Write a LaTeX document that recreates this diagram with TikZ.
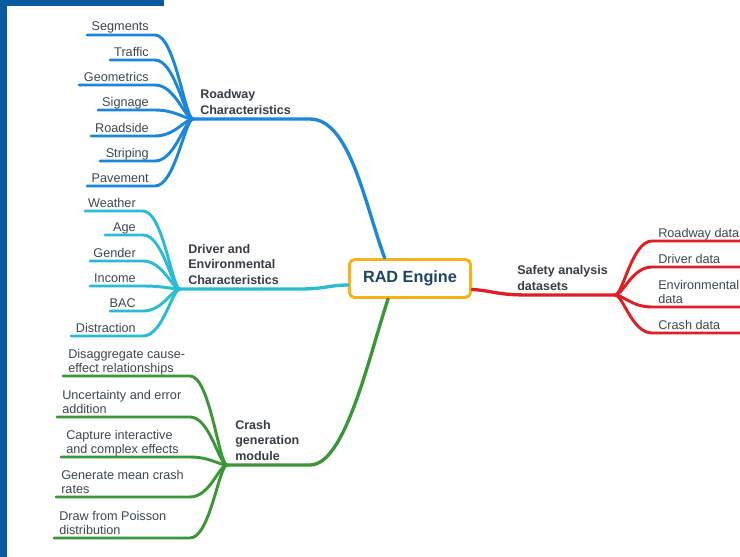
\documentclass[tikz,border=0pt]{standalone}
\usepackage{fontspec}
\setmainfont{Liberation Sans}
\usepackage{tikz}
\usetikzlibrary{calc}
\definecolor{barc}{RGB}{10,90,160}
\definecolor{blu}{RGB}{26,135,220}
\definecolor{cyn}{RGB}{41,188,213}
\definecolor{grn}{RGB}{59,150,55}
\definecolor{rd}{RGB}{224,30,37}
\definecolor{orng}{RGB}{247,178,27}
\definecolor{ink}{RGB}{61,72,82}
\definecolor{headc}{RGB}{55,62,70}
\definecolor{radc}{RGB}{31,70,96}

\begin{document}
\begin{tikzpicture}[x=0.75pt,y=-0.75pt,
		lw/.style={line width=2.2pt,line cap=round},
		mb/.style={line width=2.5pt,line cap=round},
		lf/.style={inner sep=0,text=ink,font=\fontsize{9.5}{10.5}\selectfont,align=left,execute at end node=\strut},
		hd/.style={inner sep=0,text=headc,font=\bfseries\fontsize{9.4}{11.5}\selectfont,align=left,anchor=south west,execute at end node=\strut}]
		\useasboundingbox[fill=white] (0,0) rectangle (740,557);
		\fill[barc] (0,0) rectangle (7,557);
		\fill[barc] (0,0) rectangle (164,6);

		\node[draw=orng,line width=2.2pt,rounded corners=4pt,fill=white,minimum width=91pt,minimum height=28.5pt,text=radc,font=\bfseries\fontsize{12.2}{14}\selectfont] (rad) at (410,278.5) {RAD Engine};

		\coordinate (hubR) at (193,119);
		\coordinate (hubD) at (180,289);
		\coordinate (hubC) at (227,465);
		\coordinate (hubS) at (615,295);
		\coordinate (rx) at (155,0);
		\coordinate (dx) at (143,0);
		\coordinate (cx) at (190,0);
		\coordinate (sx) at (652,0);

		\draw[mb,blu] (hubR) -- (310,119) .. controls (350,119) and (365,205) .. (rad.141);
		\draw[mb,cyn] (hubD) -- (300,289) .. controls (325,289) and (330,285) .. (rad.186);
		\draw[mb,grn] (hubC) -- (310,465) .. controls (345,465) and (368,360) .. (rad.223);
		\draw[mb,rd] (rad.350) .. controls (495,291) and (495,295) .. (530,295) -- (hubS);

		\node[hd] (hR) at (200,119) {Roadway\\Characteristics};
		\node[hd] (hD) at (188,289) {Driver and\\Environmental\\Characteristics};
		\node[hd] (hC) at (235,465) {Crash\\generation\\module};
		\node[hd] (hS) at (517,295) {Safety analysis\\datasets};

		\coordinate (seg) at (87,35);
		\coordinate (trf) at (110,60);
		\coordinate (geo) at (79,85);
		\coordinate (sgn) at (98,110);
		\coordinate (rds) at (91,136);
		\coordinate (str) at (100,161);
		\coordinate (pav) at (87,186);
		\node[lf,anchor=south east] (seg-t) at (149,35) {Segments};
		\node[lf,anchor=south east] (trf-t) at (149,60.5) {Traffic};
		\node[lf,anchor=south east] (geo-t) at (149,85.5) {Geometrics};
		\node[lf,anchor=south east] (sgn-t) at (149,110.5) {Signage};
		\node[lf,anchor=south east] (rds-t) at (149,136.5) {Roadside};
		\node[lf,anchor=south east] (str-t) at (149,161.5) {Striping};
		\node[lf,anchor=south east] (pav-t) at (149,186.5) {Pavement};
		\draw[lw,blu] (seg) -- (seg -| rx) .. controls +(20,0) and +(-8,0) .. (hubR);
		\draw[lw,blu] (trf) -- (trf -| rx) .. controls +(20,0) and +(-8,0) .. (hubR);
		\draw[lw,blu] (geo) -- (geo -| rx) .. controls +(20,0) and +(-8,0) .. (hubR);
		\draw[lw,blu] (sgn) -- (sgn -| rx) .. controls +(20,0) and +(-8,0) .. (hubR);
		\draw[lw,blu] (rds) -- (rds -| rx) .. controls +(20,0) and +(-8,0) .. (hubR);
		\draw[lw,blu] (str) -- (str -| rx) .. controls +(20,0) and +(-8,0) .. (hubR);
		\draw[lw,blu] (pav) -- (pav -| rx) .. controls +(20,0) and +(-8,0) .. (hubR);

		\coordinate (wth) at (85,211);
		\coordinate (age) at (105,235);
		\coordinate (gnd) at (90,261);
		\coordinate (inc) at (90,286);
		\coordinate (bac) at (110,311);
		\coordinate (dst) at (71,336);
		\node[lf,anchor=south east] (wth-t) at (136,211.5) {Weather};
		\node[lf,anchor=south east] (age-t) at (136,235.5) {Age};
		\node[lf,anchor=south east] (gnd-t) at (136,261.5) {Gender};
		\node[lf,anchor=south east] (inc-t) at (136,286.5) {Income};
		\node[lf,anchor=south east] (bac-t) at (136,311.5) {BAC};
		\node[lf,anchor=south east] (dst-t) at (136,336.5) {Distraction};
		\draw[lw,cyn] (wth) -- (wth -| dx) .. controls +(20,0) and +(-8,0) .. (hubD);
		\draw[lw,cyn] (age) -- (age -| dx) .. controls +(20,0) and +(-8,0) .. (hubD);
		\draw[lw,cyn] (gnd) -- (gnd -| dx) .. controls +(20,0) and +(-8,0) .. (hubD);
		\draw[lw,cyn] (inc) -- (inc -| dx) .. controls +(20,0) and +(-8,0) .. (hubD);
		\draw[lw,cyn] (bac) -- (bac -| dx) .. controls +(20,0) and +(-8,0) .. (hubD);
		\draw[lw,cyn] (dst) -- (dst -| dx) .. controls +(20,0) and +(-8,0) .. (hubD);

		\coordinate (dis) at (63,376);
		\coordinate (unc) at (57,417);
		\coordinate (cap) at (61,457);
		\coordinate (gen) at (56,497);
		\coordinate (drw) at (54,538);
		\node[lf,anchor=south west] (dis-t) at (68,376.5) {Disaggregate cause-\\effect relationships};
		\node[lf,anchor=south west] (unc-t) at (62,417.5) {Uncertainty and error\\addition};
		\node[lf,anchor=south west] (cap-t) at (66,457.5) {Capture interactive\\and complex effects};
		\node[lf,anchor=south west] (gen-t) at (61,497.5) {Generate mean crash\\rates};
		\node[lf,anchor=south west] (drw-t) at (59,538.5) {Draw from Poisson\\distribution};
		\draw[lw,grn] (dis) -- (dis -| cx) .. controls +(20,0) and +(-8,0) .. (hubC);
		\draw[lw,grn] (unc) -- (unc -| cx) .. controls +(20,0) and +(-8,0) .. (hubC);
		\draw[lw,grn] (cap) -- (cap -| cx) .. controls +(20,0) and +(-8,0) .. (hubC);
		\draw[lw,grn] (gen) -- (gen -| cx) .. controls +(20,0) and +(-8,0) .. (hubC);
		\draw[lw,grn] (drw) -- (drw -| cx) .. controls +(20,0) and +(-8,0) .. (hubC);

		\coordinate (rwy) at (740,241);
		\coordinate (drv) at (740,267);
		\coordinate (env) at (740,307);
		\coordinate (crs) at (740,333);
		\node[lf,anchor=south west] (rwy-t) at (658,241.5) {Roadway data};
		\node[lf,anchor=south west] (drv-t) at (658,267.5) {Driver data};
		\node[lf,anchor=south west] (env-t) at (658,307.5) {Environmental\\data};
		\node[lf,anchor=south west] (crs-t) at (658,333.5) {Crash data};
		\draw[lw,rd] (hubS) .. controls +(8,0) and +(-20,0) .. (rwy -| sx) -- (rwy);
		\draw[lw,rd] (hubS) .. controls +(8,0) and +(-20,0) .. (drv -| sx) -- (drv);
		\draw[lw,rd] (hubS) .. controls +(8,0) and +(-20,0) .. (env -| sx) -- (env);
		\draw[lw,rd] (hubS) .. controls +(8,0) and +(-20,0) .. (crs -| sx) -- (crs);
	\end{tikzpicture}
\end{document}
